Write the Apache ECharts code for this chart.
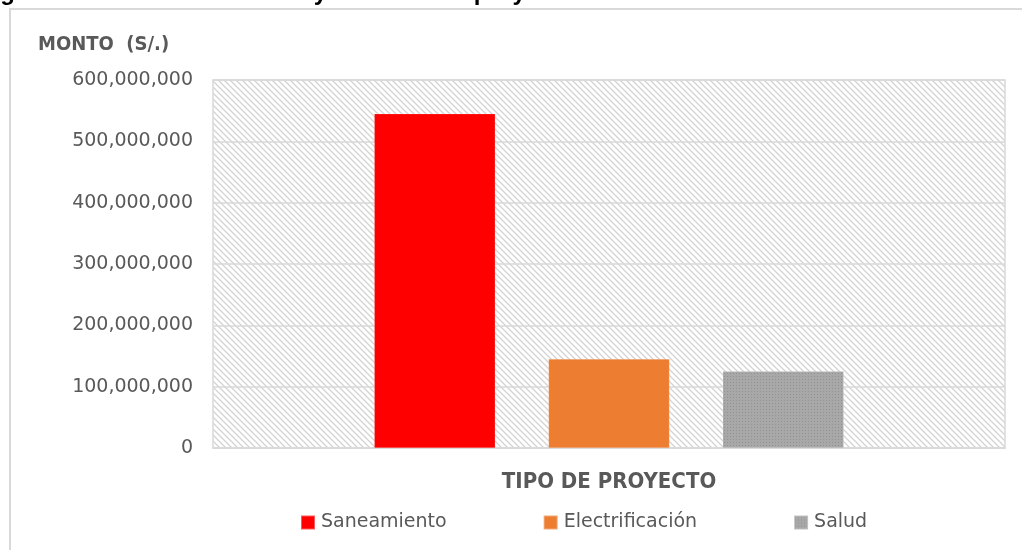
<!DOCTYPE html>
<html>
<head>
<meta charset="utf-8">
<style>
  html, body { margin: 0; padding: 0; background: #ffffff; }
  #chart { width: 1022px; height: 550px; }
</style>
<script src="https://cdn.jsdelivr.net/npm/echarts@6/dist/echarts.min.js"></script>
</head>
<body>
<div id="chart"></div>
<script>
// Inversión por tipo de proyecto (soles)
const categories = [''];
const seriesNames = ['Saneamiento', 'Electrificación', 'Salud'];
const saneamiento = [545000000];
const electrificacion = [145000000];
const salud = [125000000];
const yTicks = [0, 100000000, 200000000, 300000000, 400000000, 500000000, 600000000];

const LABEL_GRAY = '#595959';
const LINE_GRAY = '#d9d9d9';
const NARROW = '"Liberation Sans Narrow", "DejaVu Sans Condensed", sans-serif';

// Diagonal hatch used as plot-area background
function hatchPattern() {
  const c = document.createElement('canvas');
  c.width = 6; c.height = 6;
  const ctx = c.getContext('2d');
  ctx.fillStyle = '#ffffff';
  ctx.fillRect(0, 0, 6, 6);
  ctx.strokeStyle = '#d3d3d3';
  ctx.lineWidth = 1.3;
  ctx.beginPath();
  ctx.moveTo(-1, -1); ctx.lineTo(7, 7);
  ctx.moveTo(-1, 5); ctx.lineTo(1, 7);
  ctx.moveTo(5, -1); ctx.lineTo(7, 1);
  ctx.stroke();
  return { image: c, repeat: 'repeat' };
}

// Stippled grey fill for the "Salud" bar
function dotPattern() {
  const c = document.createElement('canvas');
  c.width = 3; c.height = 3;
  const ctx = c.getContext('2d');
  ctx.fillStyle = '#a8a8a8';
  ctx.fillRect(0, 0, 3, 3);
  ctx.fillStyle = '#929292';
  ctx.fillRect(1, 1, 1, 1);
  return { image: c, repeat: 'repeat' };
}

const fmt = v => Math.round(v).toString().replace(/\B(?=(\d{3})+(?!\d))/g, ',');

const chart = echarts.init(document.getElementById('chart'), null, { renderer: 'canvas' });

const barStyle = (color) => ({ color: color, borderColor: 'rgba(255,255,255,0.35)', borderWidth: 0.5 });

chart.setOption({
  animation: false,
  backgroundColor: '#ffffff',
  graphic: [
    {
      type: 'text',
      left: -21, top: -19,
      silent: true,
      style: {
        text: 'Figura 2: Monto de inversión y cantidad de proyectos',
        font: 'bold 24px "Liberation Sans", Arial, sans-serif',
        fill: '#000000'
      }
    },
    {
      type: 'rect',
      silent: true,
      shape: { x: 10, y: 9, width: 1200, height: 700 },
      style: { fill: 'none', stroke: LINE_GRAY, lineWidth: 2 }
    },
    {
      type: 'text',
      left: 38, top: 35,
      silent: true,
      style: {
        text: 'MONTO  (S/.)',
        font: 'bold 20px ' + NARROW,
        fill: LABEL_GRAY
      }
    }
  ],
  grid: {
    left: 213, right: 17, top: 80, bottom: 102,
    show: true,
    backgroundColor: hatchPattern(),
    borderColor: LINE_GRAY,
    borderWidth: 1.5
  },
  legend: {
    data: seriesNames,
    left: 300, top: 513,
    padding: 0,
    itemWidth: 14, itemHeight: 14,
    itemGap: 96,
    icon: 'rect',
    textStyle: { fontFamily: 'DejaVu Sans', fontSize: 19, color: LABEL_GRAY, padding: [0, 0, 0, 1] }
  },
  xAxis: {
    type: 'category',
    data: categories,
    name: 'TIPO DE PROYECTO',
    nameLocation: 'middle',
    nameGap: 23,
    nameTextStyle: {
      fontFamily: NARROW,
      fontWeight: 'bold', fontSize: 22, color: LABEL_GRAY
    },
    axisLine: { show: true, lineStyle: { color: LINE_GRAY, width: 1.5 } },
    axisTick: { show: false },
    axisLabel: { show: false }
  },
  yAxis: {
    type: 'value',
    min: yTicks[0],
    max: yTicks[yTicks.length - 1],
    interval: yTicks[1] - yTicks[0],
    axisLine: { show: false },
    axisTick: { show: false },
    splitLine: { lineStyle: { color: LINE_GRAY, width: 1.5 } },
    axisLabel: {
      margin: 20,
      fontFamily: 'DejaVu Sans', fontSize: 19, color: LABEL_GRAY,
      formatter: fmt
    }
  },
  series: [
    { name: seriesNames[0], type: 'bar', data: saneamiento, barWidth: 121, barGap: '44%', itemStyle: barStyle('#ff0000') },
    { name: seriesNames[1], type: 'bar', data: electrificacion, barWidth: 121, barGap: '44%', itemStyle: barStyle('#ed7d31') },
    { name: seriesNames[2], type: 'bar', data: salud, barWidth: 121, barGap: '44%', itemStyle: barStyle(dotPattern()) }
  ]
});
</script>
</body>
</html>
